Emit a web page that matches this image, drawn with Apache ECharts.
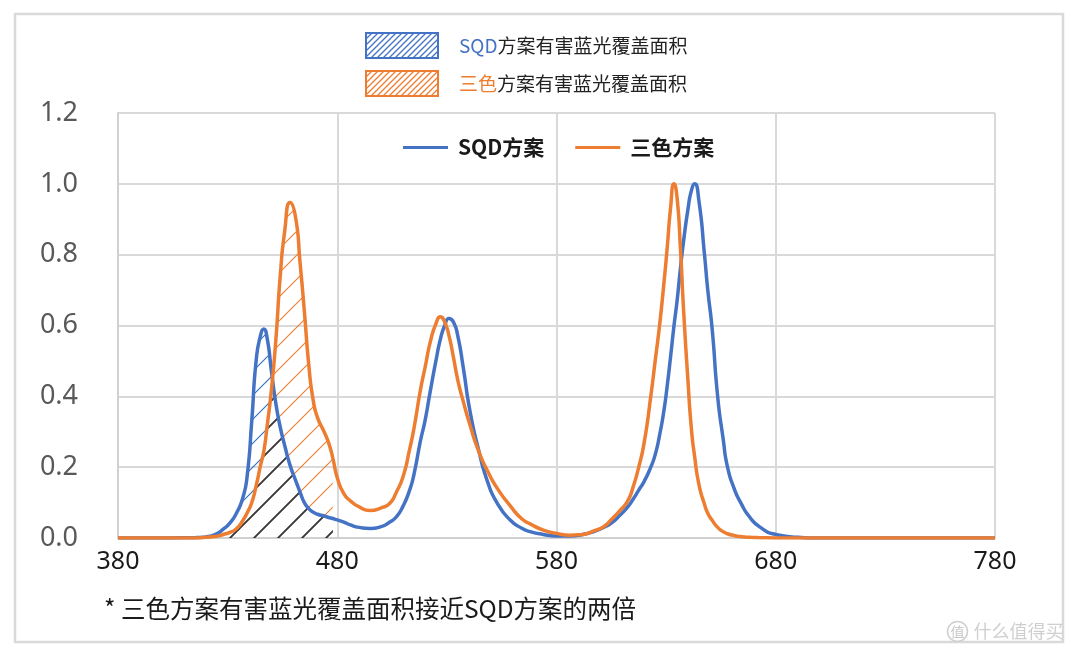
<!DOCTYPE html>
<html>
<head>
<meta charset="utf-8">
<script src="https://cdn.jsdelivr.net/npm/echarts@6/dist/echarts.min.js"></script>
<style>
  html, body { margin: 0; padding: 0; background: #fff; }
  #chart-content { width: 1080px; height: 654px; }
</style>
</head>
<body>
<div id="chart-content"></div>
<script>
// wavelength (nm) shared by both spectra
const wavelength = [380, 400, 415, 420, 425, 428, 431, 434, 437, 439,
  441, 443, 445, 446.5, 448, 450, 452, 454, 456, 458.5,
  461, 463, 465, 467, 469, 471, 474, 476, 478, 480,
  483, 486, 490, 495, 500, 504, 507, 510, 513, 515,
  518, 520, 522.5, 525, 527, 529, 531, 533, 535, 537.5,
  540.5, 544.5, 548.5, 553, 559, 564, 568, 574, 580, 586,
  592, 597, 601.5, 605, 609, 612.5, 615, 617.5, 620, 623,
  625, 627, 629, 630.5, 632, 633.6, 635, 636.5, 638, 640,
  641.5, 643, 645, 647.5, 649, 651, 653.5, 656, 658, 661,
  664, 668, 673, 680, 690, 700, 780];

// SQD方案
const sqd = [0, 0, 0.001, 0.003, 0.012, 0.025, 0.042, 0.07, 0.115, 0.18,
  0.33, 0.5, 0.572, 0.59, 0.565, 0.47, 0.38, 0.313, 0.262, 0.205,
  0.163, 0.13, 0.1, 0.083, 0.073, 0.067, 0.062, 0.058, 0.055, 0.051,
  0.045, 0.037, 0.03, 0.027, 0.032, 0.045, 0.06, 0.09, 0.135, 0.18,
  0.276, 0.33, 0.417, 0.5, 0.56, 0.6, 0.62, 0.61, 0.57, 0.48,
  0.36, 0.248, 0.16, 0.098, 0.05, 0.028, 0.018, 0.01, 0.006, 0.006,
  0.01, 0.018, 0.03, 0.042, 0.065, 0.088, 0.11, 0.135, 0.16, 0.2,
  0.235, 0.29, 0.36, 0.43, 0.51, 0.6, 0.67, 0.76, 0.84, 0.93,
  0.98, 1.0, 0.95, 0.8, 0.7, 0.59, 0.4, 0.28, 0.2, 0.14,
  0.1, 0.06, 0.03, 0.01, 0.002, 0, 0];

// 三色方案
const tri = [0, 0, 0, 0.002, 0.005, 0.01, 0.016, 0.026, 0.05, 0.072,
  0.1, 0.147, 0.205, 0.245, 0.315, 0.42, 0.56, 0.74, 0.865, 0.947,
  0.905, 0.78, 0.64, 0.49, 0.39, 0.34, 0.3, 0.27, 0.225, 0.17,
  0.125, 0.105, 0.088, 0.078, 0.085, 0.098, 0.13, 0.173, 0.25, 0.31,
  0.42, 0.48, 0.555, 0.605, 0.625, 0.61, 0.57, 0.51, 0.445, 0.385,
  0.32, 0.245, 0.19, 0.14, 0.09, 0.055, 0.04, 0.022, 0.013, 0.008,
  0.01, 0.02, 0.032, 0.052, 0.078, 0.105, 0.145, 0.2, 0.27, 0.4,
  0.5, 0.6, 0.72, 0.82, 0.93, 1.0, 0.96, 0.82, 0.64, 0.44,
  0.31, 0.23, 0.15, 0.095, 0.07, 0.05, 0.03, 0.018, 0.012, 0.007,
  0.004, 0.002, 0.001, 0, 0, 0, 0];

const hatchEnd = 478; // hatched (harmful blue light) region ends here
const lineNames = ["SQD方案", "三色方案"];
const hatchNames = ["SQD方案有害蓝光覆盖面积", "三色方案有害蓝光覆盖面积"];
const footnote = "* 三色方案有害蓝光覆盖面积接近SQD方案的两倍";

const blue = "#4472c4";
const orange = "#ed7d31";
const cjk = "'Noto Sans CJK SC', 'Noto Sans', sans-serif";
const num = "'Noto Sans', 'Open Sans', sans-serif";
const smooth = 0.6;

// diagonal hatch tile
function hatch(color, size, width, bg) {
  const c = document.createElement("canvas");
  c.width = size;
  c.height = size;
  const ctx = c.getContext("2d");
  if (bg) {
    ctx.fillStyle = bg;
    ctx.fillRect(0, 0, size, size);
  }
  ctx.strokeStyle = color;
  ctx.lineWidth = width;
  ctx.beginPath();
  ctx.moveTo(-2, size + 2); ctx.lineTo(size + 2, -2);
  ctx.moveTo(-2, 2); ctx.lineTo(2, -2);
  ctx.moveTo(size - 2, size + 2); ctx.lineTo(size + 2, size - 2);
  ctx.stroke();
  return { image: c, repeat: "repeat" };
}

function pairs(values, upTo) {
  let out = [];
  wavelength.forEach(function (w, i) {
    if (upTo === undefined || w <= upTo) out.push([w, values[i]]);
  });
  return out;
}

// region under both curves gets the dark hatch drawn over the coloured ones
const overlap = sqd.map(function (v, i) { return Math.min(v, tri[i]); });

function hatchSeries(name, values, pattern, z) {
  return {
    name: name,
    type: "line",
    data: pairs(values, hatchEnd),
    smooth: smooth,
    symbol: "none",
    lineStyle: { width: 0 },
    areaStyle: { color: pattern, opacity: 1 },
    z: z,
    silent: true,
  };
}

const chartDom = document.getElementById("chart-content");
const myChart = echarts.init(chartDom, null, { renderer: "canvas" });

const option = {
  animation: false,
  backgroundColor: "#fff",
  title: {
    text: footnote,
    left: 104,
    top: 596,
    padding: 0,
    textStyle: { fontFamily: cjk, fontSize: 24.5, fontWeight: "normal", color: "#1a1a1a" },
  },
  legend: [
    {
      orient: "vertical",
      left: 365,
      top: 32,
      padding: 0,
      itemWidth: 72,
      itemHeight: 25,
      itemGap: 11,
      selectedMode: false,
      data: [
        { name: hatchNames[0], icon: "rect",
          itemStyle: { color: hatch(blue, 6, 1.3, "#fff"), borderColor: blue, borderWidth: 2 } },
        { name: hatchNames[1], icon: "rect",
          itemStyle: { color: hatch(orange, 6, 1.3, "#fff"), borderColor: orange, borderWidth: 2 } },
      ],
      formatter: function (name) {
        return name === hatchNames[0]
          ? "{g| }{b|SQD}{t|" + name.slice(3) + "}"
          : "{g| }{o|三色}{t|" + name.slice(2) + "}";
      },
      textStyle: {
        fontFamily: cjk,
        fontSize: 19,
        rich: {
          g: { width: 16, fontSize: 19 },
          b: { color: blue, fontSize: 19, fontFamily: cjk },
          o: { color: orange, fontSize: 19, fontFamily: cjk },
          t: { color: "#222", fontSize: 19, fontFamily: cjk },
        },
      },
    },
    {
      left: 403,
      top: 137,
      padding: 0,
      itemWidth: 45,
      itemHeight: 3,
      itemGap: 31,
      selectedMode: false,
      data: [
        { name: lineNames[0], icon: "rect", itemStyle: { color: blue } },
        { name: lineNames[1], icon: "rect", itemStyle: { color: orange } },
      ],
      textStyle: {
        fontFamily: cjk, fontSize: 21, fontWeight: "bold", color: "#1a1a1a",
        padding: [0, 0, 0, 5],
      },
    },
  ],
  grid: { left: 118, right: 85, top: 113, bottom: 116 },
  xAxis: {
    type: "value",
    min: 380,
    max: 780,
    interval: 100,
    axisLine: { show: true, onZero: false, lineStyle: { color: "#d0d0d0", width: 2 } },
    axisTick: { show: false },
    axisLabel: { margin: 11, color: "#1a1a1a", fontSize: 25, fontFamily: num },
    splitLine: { show: true, lineStyle: { color: "#d9d9d9", width: 2 } },
  },
  yAxis: {
    type: "value",
    min: 0,
    max: 1.2,
    interval: 0.2,
    axisLine: { show: true, lineStyle: { color: "#d0d0d0", width: 2 } },
    axisTick: { show: false },
    axisLabel: {
      margin: 40,
      color: "#595959",
      fontSize: 27,
      fontFamily: num,
      formatter: function (v) { return v.toFixed(1); },
    },
    splitLine: { show: true, lineStyle: { color: "#d9d9d9", width: 2 } },
  },
  series: [
    hatchSeries(hatchNames[0], sqd, hatch("#2e6fc0", 24, 1.1), 1),
    hatchSeries(hatchNames[1], tri, hatch(orange, 24, 1.1), 2),
    hatchSeries("overlap", overlap, hatch("#3a3a3a", 24, 1.7), 3),
    {
      name: lineNames[0],
      type: "line",
      data: pairs(sqd),
      smooth: smooth,
      symbol: "none",
      lineStyle: { color: blue, width: 3.5 },
      itemStyle: { color: blue },
      z: 5,
    },
    {
      name: lineNames[1],
      type: "line",
      data: pairs(tri),
      smooth: smooth,
      symbol: "none",
      lineStyle: { color: orange, width: 3.5 },
      itemStyle: { color: orange },
      z: 6,
    },
  ],
  graphic: [
    {
      type: "rect",
      shape: { x: 15, y: 14, width: 1048, height: 628 },
      style: { fill: "none", stroke: "#d9d9d9", lineWidth: 2.5 },
      silent: true,
    },
    {
      type: "group",
      left: 945,
      top: 619,
      silent: true,
      children: [
        { type: "circle", shape: { cx: 10, cy: 10, r: 10 }, style: { fill: "none", stroke: "#cfcfcf", lineWidth: 1.5 } },
        { type: "text", x: 10, y: 10, style: { text: "值", fill: "#c8c8c8", font: "14px " + cjk, align: "center", verticalAlign: "middle" } },
        { type: "text", x: 26, y: 10, style: { text: "什么值得买", fill: "#cfcfcf", font: "18px " + cjk, verticalAlign: "middle" } },
      ],
    },
  ],
};

myChart.setOption(option);
</script>
</body>
</html>
